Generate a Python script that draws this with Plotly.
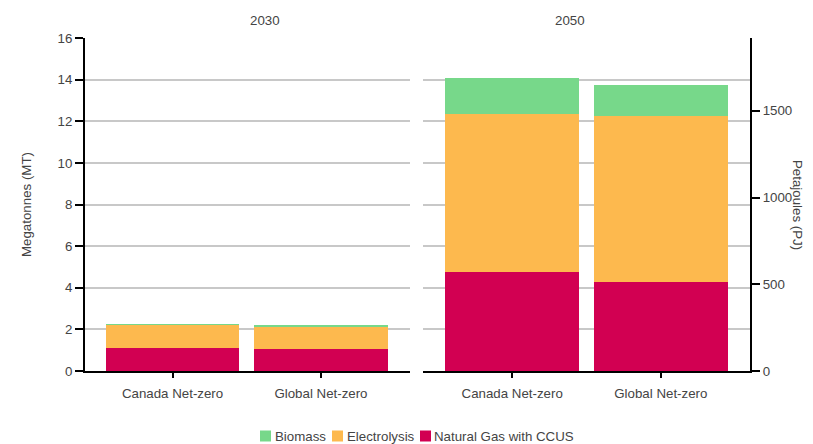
import plotly.graph_objects as go

scenarios = ["Canada Net-zero", "Global Net-zero"]
years = ["2030", "2050"]
# Megatonnes by year -> [Canada, Global]
natural_gas = {"2030": [1.10, 1.05], "2050": [4.76, 4.26]}
electrolysis = {"2030": [1.11, 1.11], "2050": [7.60, 8.01]}
biomass = {"2030": [0.04, 0.04], "2050": [1.71, 1.48]}
pj_ticks = [0, 500, 1000, 1500]
PJ_PER_MT = 120
legend_names = ["Biomass", "Electrolysis", "Natural Gas with CCUS"]

colors = {"Biomass": "#77D88A", "Electrolysis": "#FDB94E", "Natural Gas with CCUS": "#D20052"}
series = [("Natural Gas with CCUS", natural_gas), ("Electrolysis", electrolysis), ("Biomass", biomass)]

# page body has an 8px default margin, so the figure starts at (8, 8) in the window
OFF = 8
W, H = 813 - OFF, 444 - OFF
PL, PR, PT, PB = 85, 750, 38, 371          # plot area in window pixels
ML, MR, MT, MB = PL - OFF, 813 - PR, PT - OFF, 444 - PB
PW, PH = PR - PL, PB - PT


def px_x(p):
    return (p - PL) / PW


def px_y(p):
    return (PB - p) / PH


fig = go.Figure()
for i, yr in enumerate(years):
    xa = "x" if i == 0 else "x2"
    ya = "y" if i == 0 else "y2"
    for name, data in series:
        fig.add_trace(go.Bar(x=scenarios, y=data[yr], name=name, marker_color=colors[name],
                             marker_line_width=0, width=0.9, xaxis=xa, yaxis=ya,
                             showlegend=False))

# invisible trace for right axis
fig.add_trace(go.Scatter(x=scenarios, y=[None, None], xaxis="x2", yaxis="y3", showlegend=False, hoverinfo="skip"))

grid = "#C8C8C8"
font_c = "#444444"
FS = 13.3
common_x = dict(showline=True, linecolor="black", linewidth=2, ticks="outside", tickcolor="black",
                ticklen=5, tickwidth=2, tickfont=dict(size=FS, color=font_c), showgrid=False,
                type="category", automargin=False, fixedrange=True, ticklabelstandoff=4)
d1 = [0, px_x(410)]
d2 = [px_x(423), 1]
fig.update_layout(
    width=W, height=H,
    margin=dict(l=ML, r=MR, t=MT, b=MB),
    paper_bgcolor="white", plot_bgcolor="white",
    font=dict(family="Liberation Sans, Arial, sans-serif", size=FS, color=font_c),
    barmode="stack", bargap=0, showlegend=False,
    xaxis=dict(domain=d1, range=[-0.59, 1.6], **common_x),
    xaxis2=dict(domain=d2, range=[-0.6, 1.6], anchor="y2", **common_x),
    yaxis=dict(range=[0, 16], dtick=2, showgrid=True, gridcolor=grid, gridwidth=1.5, zeroline=False,
               showline=True, linecolor="black", linewidth=2, ticks="outside", tickcolor="black",
               ticklen=8, tickwidth=1.5, tickfont=dict(size=FS, color=font_c), automargin=False),
    yaxis2=dict(range=[0, 16], dtick=2, showgrid=True, gridcolor=grid, gridwidth=1.5, zeroline=False,
                showticklabels=False, showline=False, anchor="x2", automargin=False),
    yaxis3=dict(range=[0, 16 * PJ_PER_MT], tickvals=pj_ticks, overlaying="y2", side="right", anchor="x2",
                showgrid=False, zeroline=False, showline=True, linecolor="black", linewidth=2,
                ticks="outside", tickcolor="black", ticklen=8, tickwidth=1.5,
                tickfont=dict(size=FS, color=font_c), automargin=False),
    annotations=[
        dict(text=years[0], xref="paper", yref="paper", x=sum(d1) / 2, y=px_y(20), yanchor="middle",
             showarrow=False, font=dict(size=FS, color=font_c)),
        dict(text=years[1], xref="paper", yref="paper", x=sum(d2) / 2, y=px_y(20), yanchor="middle",
             showarrow=False, font=dict(size=FS, color=font_c)),
        dict(text="Megatonnes (MT)", xref="paper", yref="paper", x=px_x(26), y=px_y(204), textangle=-90,
             xanchor="center", yanchor="middle", showarrow=False, font=dict(size=FS, color=font_c)),
        dict(text="Petajoules (PJ)", xref="paper", yref="paper", x=px_x(798), y=px_y(205), textangle=90,
             xanchor="center", yanchor="middle", showarrow=False, font=dict(size=FS, color=font_c)),
    ],
)

# manual compact legend (squares + text)
sq_left = [260, 332, 420]
txt_left = [275, 347, 434]
ly = 436
for name, sx, tx in zip(legend_names, sq_left, txt_left):
    fig.add_shape(type="rect", xref="paper", yref="paper", x0=px_x(sx), x1=px_x(sx + 11),
                  y0=px_y(ly + 5.5), y1=px_y(ly - 5.5), fillcolor=colors[name], line_width=0)
    fig.add_annotation(text=name, xref="paper", yref="paper", x=px_x(tx), y=px_y(ly), xanchor="left",
                       yanchor="middle", showarrow=False, xshift=-2, font=dict(size=FS, color=font_c))

fig.write_html("out.html")
